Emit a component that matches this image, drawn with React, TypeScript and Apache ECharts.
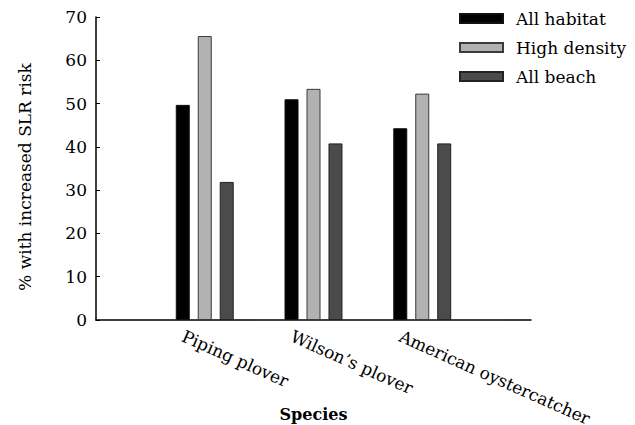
import React, { useEffect, useRef } from "react";
import * as echarts from "echarts";

const categories = ["", "Piping plover", "Wilson’s plover", "American oystercatcher", ""];
const allHabitat = [null, 49.7, 51.0, 44.3, null];
const highDensity = [null, 65.6, 53.4, 52.3, null];
const allBeach = [null, 31.9, 40.8, 40.8, null];
const yTicks = { min: 0, max: 70, interval: 10 };

const FONT = "DejaVu Serif";

export default function App() {
  const ref = useRef<HTMLDivElement>(null);
  useEffect(() => {
    if (!ref.current) return;
    const chart = echarts.init(ref.current, undefined, { renderer: "svg" });
    const mk = (name: string, data: (number | null)[], color: string, border: string) => ({
      name,
      type: "bar",
      data: data.map((v) => (v === null ? "-" : v)),
      barWidth: 14,
      barGap: "57%",
      itemStyle: { color, borderColor: border, borderWidth: 1 },
    });
    chart.setOption({
      animation: false,
      backgroundColor: "#fff",
      textStyle: { fontFamily: FONT, color: "#000" },
      grid: { left: 96, right: 104, top: 17, bottom: 105, containLabel: false, outerBoundsMode: "none" },
      legend: {
        orient: "vertical",
        left: 459,
        top: 10,
        padding: 0,
        itemWidth: 43,
        itemHeight: 9,
        itemGap: 12,
        icon: "rect",
        textStyle: { fontFamily: FONT, fontSize: 17, color: "#000", padding: [0, 0, 0, 8] },
        data: ["All habitat", "High density", "All beach"],
      },
      xAxis: {
        type: "category",
        data: categories,
        boundaryGap: false,
        name: "Species",
        nameLocation: "middle",
        nameGap: 86,
        nameMoveOverlap: false,
        nameTextStyle: { fontFamily: FONT, fontSize: 16, fontWeight: "bold", color: "#000" },
        axisLine: { lineStyle: { color: "#000", width: 1.5 } },
        axisTick: { show: false },
        splitLine: { show: false },
        axisLabel: {
          interval: 0,
          rotate: -24,
          margin: 25,
          padding: [0, 0, 0, -24],
          fontFamily: FONT,
          fontSize: 17,
          color: "#000",
        },
      },
      yAxis: {
        type: "value",
        min: yTicks.min,
        max: yTicks.max,
        interval: yTicks.interval,
        name: "% with increased SLR risk",
        nameLocation: "middle",
        nameGap: 63,
        nameMoveOverlap: false,
        nameTextStyle: { fontFamily: FONT, fontSize: 17, color: "#000", padding: [0, 17, 0, 0] },
        axisLine: { show: true, lineStyle: { color: "#000", width: 1.5 } },
        axisTick: { show: true, inside: true, length: 4, lineStyle: { color: "#000" } },
        splitLine: { show: false },
        axisLabel: { margin: 9, fontFamily: FONT, fontSize: 17, color: "#000" },
      },
      series: [
        mk("All habitat", allHabitat, "#000000", "#111111"),
        mk("High density", highDensity, "#b2b2b2", "#3a3a3a"),
        mk("All beach", allBeach, "#4b4b4b", "#222222"),
      ],
    });
    return () => chart.dispose();
  }, []);
  return <div ref={ref} style={{ width: 635, height: 425, position: "absolute", left: 0, top: 0 }} />;
}
